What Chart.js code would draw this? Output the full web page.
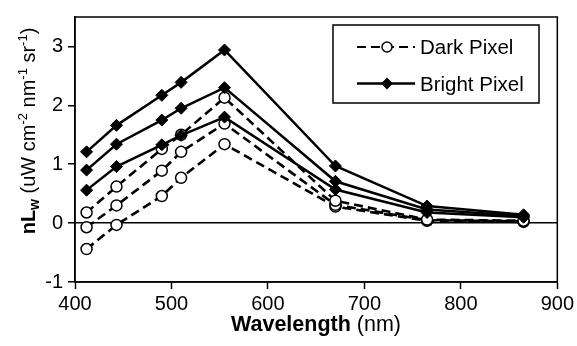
<!DOCTYPE html>
<html><head><meta charset="utf-8">
<script src="https://cdn.jsdelivr.net/npm/chart.js@4/dist/chart.umd.min.js"></script>
<style>html,body{margin:0;padding:0;background:#fff}</style>
</head><body>
<canvas id="c" width="577" height="346" style="display:block;width:577px;height:346px"></canvas>
<script>
// ---- data ----
const wavelengths = [412, 443, 490, 510, 555, 670, 765, 865];
const bright1 = [1.21, 1.66, 2.17, 2.39, 2.94, 0.97, 0.29, 0.14];
const bright2 = [0.90, 1.34, 1.75, 1.95, 2.30, 0.71, 0.23, 0.12];
const bright3 = [0.56, 0.96, 1.33, 1.49, 1.80, 0.57, 0.18, 0.10];
const dark1 = [0.18, 0.62, 1.26, 1.50, 2.13, 0.38, 0.06, 0.04];
const dark2 = [-0.07, 0.30, 0.89, 1.21, 1.69, 0.31, 0.05, 0.03];
const dark3 = [-0.44, -0.03, 0.46, 0.77, 1.34, 0.28, 0.04, 0.02];
const legendLabels = ['Dark Pixel', 'Bright Pixel'];
const xTickValues = [400, 500, 600, 700, 800, 900];
const yTickValues = [-1, 0, 1, 2, 3];

const FONT = '"Liberation Sans", Arial, Helvetica, sans-serif';
const pts = arr => arr.map((v, i) => ({x: wavelengths[i], y: v}));

const brightStyle = {
  borderColor: '#000', borderWidth: 2.5, pointStyle: 'rectRot', pointRadius: 6,
  pointBackgroundColor: '#000', pointBorderColor: '#000', pointBorderWidth: 1,
  tension: 0, fill: false, order: 1
};
const darkStyle = {
  borderColor: '#000', borderWidth: 2.6, borderDash: [9, 5], pointStyle: 'circle', pointRadius: 5.5,
  pointBackgroundColor: '#fff', pointBorderColor: '#000', pointBorderWidth: 1.5,
  tension: 0, fill: false, order: 2
};

const datasets = [
  Object.assign({label: legendLabels[1], data: pts(bright1)}, brightStyle),
  Object.assign({label: legendLabels[1], data: pts(bright2)}, brightStyle),
  Object.assign({label: legendLabels[1], data: pts(bright3)}, brightStyle),
  Object.assign({label: legendLabels[0], data: pts(dark1)}, darkStyle),
  Object.assign({label: legendLabels[0], data: pts(dark2)}, darkStyle),
  Object.assign({label: legendLabels[0], data: pts(dark3)}, darkStyle)
];

const decor = {
  id: 'decor',
  afterDraw(chart) {
    const ctx = chart.ctx, a = chart.chartArea;
    ctx.save();
    // frame
    ctx.strokeStyle = '#000'; ctx.lineWidth = 1.5;
    ctx.strokeRect(a.left, a.top, a.right - a.left, a.bottom - a.top);
    // legend box
    const lx = 333, ly = 25, lw = 206, lh = 78;
    ctx.fillStyle = '#fff';
    ctx.fillRect(lx, ly, lw, lh);
    ctx.strokeRect(lx, ly, lw, lh);
    // dark entry
    const y1 = 47, y2 = 83.5, sx = 357, ex = 415, cx = 387;
    ctx.lineWidth = 2; ctx.setLineDash([9, 5]);
    ctx.beginPath(); ctx.moveTo(sx, y1); ctx.lineTo(ex, y1); ctx.stroke();
    ctx.setLineDash([]);
    ctx.beginPath(); ctx.arc(cx, y1, 5, 0, Math.PI * 2);
    ctx.fillStyle = '#fff'; ctx.fill(); ctx.lineWidth = 1.5; ctx.stroke();
    // bright entry
    ctx.lineWidth = 2.5;
    ctx.beginPath(); ctx.moveTo(sx, y2); ctx.lineTo(ex, y2); ctx.stroke();
    ctx.fillStyle = '#000';
    ctx.beginPath(); ctx.moveTo(cx - 6, y2); ctx.lineTo(cx, y2 - 6); ctx.lineTo(cx + 6, y2); ctx.lineTo(cx, y2 + 6); ctx.closePath(); ctx.fill();
    ctx.font = '20.5px ' + FONT; ctx.textBaseline = 'alphabetic'; ctx.textAlign = 'left';
    ctx.fillText(legendLabels[0], 420, 54);
    ctx.fillText(legendLabels[1], 420, 90.5);

    // x title
    const xs = [{t: 'Wavelength', f: 'bold 21.5px ' + FONT}, {t: ' (nm)', f: '21.5px ' + FONT}];
    let tw = 0; xs.forEach(s => { ctx.font = s.f; s.w = ctx.measureText(s.t).width; tw += s.w; });
    let px = 316 - tw / 2;
    xs.forEach(s => { ctx.font = s.f; ctx.fillText(s.t, px, 331); px += s.w; });

    // y title
    const ys = [
      {t: 'nL', f: 'bold 20px ' + FONT, d: 0},
      {t: 'w', f: 'bold 14px ' + FONT, d: 4},
      {t: ' (uW cm', f: '20px ' + FONT, d: 0},
      {t: '-2', f: '13px ' + FONT, d: -8},
      {t: ' nm', f: '20px ' + FONT, d: 0},
      {t: '-1', f: '13px ' + FONT, d: -8},
      {t: ' sr', f: '20px ' + FONT, d: 0},
      {t: '-1', f: '13px ' + FONT, d: -8},
      {t: ')', f: '20px ' + FONT, d: 0}
    ];
    tw = 0; ys.forEach(s => { ctx.font = s.f; s.w = ctx.measureText(s.t).width; tw += s.w; });
    ctx.translate(35, 131); ctx.rotate(-Math.PI / 2);
    px = -tw / 2;
    ys.forEach(s => { ctx.font = s.f; ctx.fillText(s.t, px, s.d); px += s.w; });
    ctx.restore();
  }
};

new Chart(document.getElementById('c'), {
  type: 'line',
  data: {datasets},
  options: {
    responsive: false, animation: false, devicePixelRatio: 1,
    layout: {padding: {top: 6, right: 19, left: 0, bottom: 0}},
    plugins: {legend: {display: false}, tooltip: {enabled: false}},
    scales: {
      x: {
        type: 'linear', min: 400, max: 900,
        afterFit: s => { s.height = 64; },
        afterBuildTicks: s => { s.ticks = xTickValues.map(v => ({value: v})); },
        ticks: {color: '#000', font: {family: FONT, size: 20}, padding: 3, maxRotation: 0, includeBounds: false},
        grid: {drawOnChartArea: false, drawTicks: true, tickLength: 7, tickColor: '#000', tickWidth: 1.5},
        border: {display: true, color: '#000', width: 1.5}
      },
      y: {
        type: 'linear', min: -1, max: 3.5,
        afterFit: s => { s.width = 75; },
        afterBuildTicks: s => { s.ticks = yTickValues.map(v => ({value: v})); },
        ticks: {color: '#000', font: {family: FONT, size: 20}, padding: 5, includeBounds: false},
        grid: {
          drawOnChartArea: true, drawTicks: true, tickLength: 7, tickColor: '#000', tickWidth: 1.5,
          color: c => (c.tick && c.tick.value === 0) ? '#000' : 'rgba(0,0,0,0)', lineWidth: 1.5
        },
        border: {display: true, color: '#000', width: 1.5}
      }
    }
  },
  plugins: [decor]
});
</script>
</body></html>
